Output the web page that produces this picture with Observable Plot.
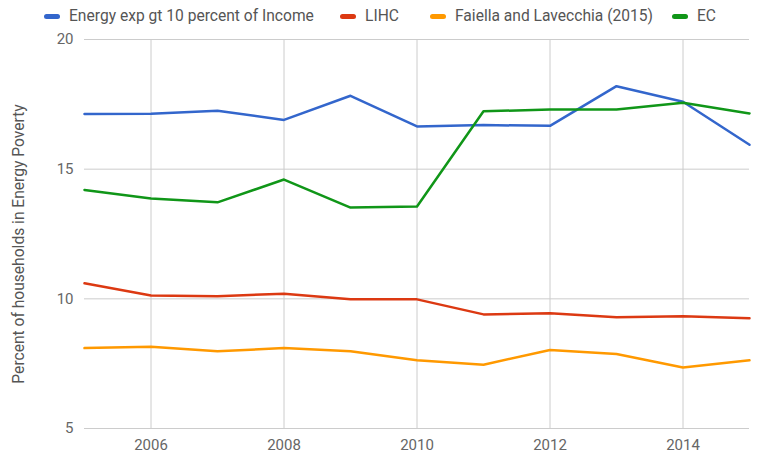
<!DOCTYPE html>
<html>
<head>
<meta charset="utf-8">
<script src="https://cdn.jsdelivr.net/npm/d3@7"></script>
<script src="https://cdn.jsdelivr.net/npm/@observablehq/plot@0.6"></script>
<style>
  body { margin: 0; background: #fff; font-family: Roboto, "Noto Sans", sans-serif; }
  #legend { height: 28px; position: relative; font-size: 15.6px; color: #555; }
  .item { position: absolute; top: 7px; display: flex; align-items: center; white-space: nowrap; }
  .sw { width: 16px; height: 5px; border-radius: 3px; margin-right: 9px; }
</style>
</head>
<body>
<div id="legend"></div>
<div id="chart"></div>
<script>
const years = [2005, 2006, 2007, 2008, 2009, 2010, 2011, 2012, 2013, 2014, 2015];
const seriesNames = ["Energy exp gt 10 percent of Income", "LIHC", "Faiella and Lavecchia (2015)", "EC"];
const energyExp = [17.13, 17.14, 17.25, 16.9, 17.83, 16.65, 16.7, 16.67, 18.2, 17.6, 15.94];
const lihc = [10.6, 10.13, 10.1, 10.2, 9.98, 9.98, 9.4, 9.44, 9.29, 9.33, 9.25];
const faiella = [8.1, 8.15, 7.98, 8.1, 7.98, 7.63, 7.46, 8.03, 7.87, 7.35, 7.63];
const ec = [14.2, 13.87, 13.72, 14.6, 13.52, 13.56, 17.23, 17.3, 17.3, 17.56, 17.15];
const colors = ["#3366cc", "#dc3912", "#ff9900", "#109618"];
const yTicks = [5, 10, 15, 20];
const xTicks = [2006, 2008, 2010, 2012, 2014];
const yLabel = "Percent of households in Energy Poverty";

const valuesBySeries = [energyExp, lihc, faiella, ec];
const data = [];
seriesNames.forEach((s, i) => years.forEach((yr, j) => data.push({series: s, year: yr, value: valuesBySeries[i][j]})));

// legend
const legendX = [44, 340, 430, 672];
const legend = document.getElementById("legend");
seriesNames.forEach((s, i) => {
  const d = document.createElement("div");
  d.className = "item";
  d.style.left = legendX[i] + "px";
  d.innerHTML = `<span class="sw" style="background:${colors[i]}"></span><span>${s}</span>`;
  legend.appendChild(d);
});

const chart = Plot.plot({
  width: 766,
  height: 444,
  marginTop: 11,
  marginLeft: 84,
  marginRight: 17,
  marginBottom: 44,
  style: {fontFamily: "Roboto, sans-serif", fontSize: "15px", color: "#666", background: "#fff"},
  x: {domain: [2005, 2015]},
  y: {domain: [5, 20]},
  color: {domain: seriesNames, range: colors},
  marks: [
    Plot.gridX(xTicks, {stroke: "#ccc", strokeOpacity: 1}),
    Plot.gridY(yTicks, {stroke: "#ccc", strokeOpacity: 1}),
    Plot.axisX(xTicks, {tickSize: 0, tickPadding: 11, tickFormat: d => String(d), label: null, fontSize: 15}),
    Plot.axisY(yTicks, {tickSize: 0, tickPadding: 11, label: null, fontSize: 15}),
    Plot.text([yLabel], {frameAnchor: "left", textAnchor: "middle", dx: -66, dy: 10, rotate: -90, text: d => d, fontSize: 15.6, fill: "#555"}),
    Plot.line(data, {x: "year", y: "value", z: "series", stroke: "series", strokeWidth: 2.5})
  ]
});
document.getElementById("chart").appendChild(chart);
</script>
</body>
</html>
